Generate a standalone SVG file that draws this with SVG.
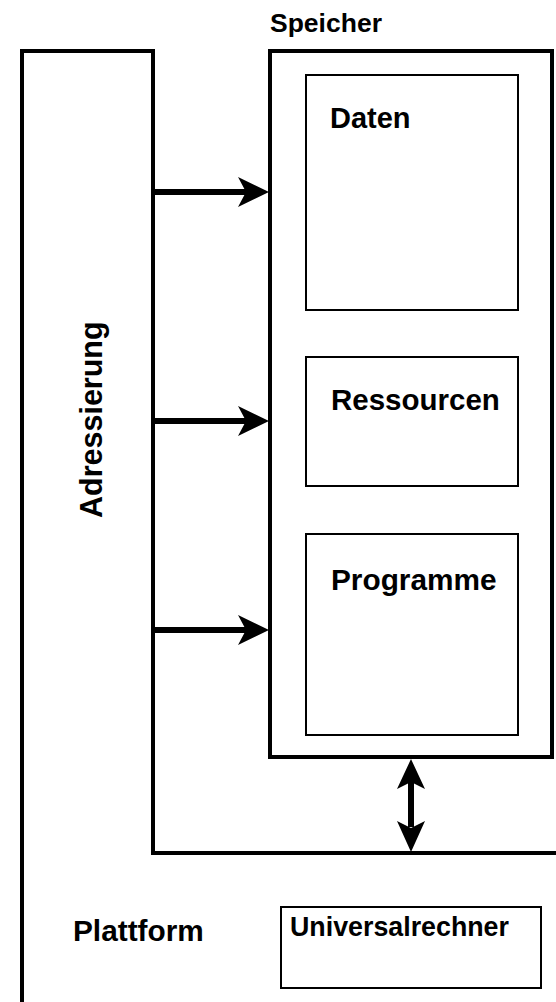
<svg xmlns="http://www.w3.org/2000/svg" width="556" height="1002" viewBox="0 0 556 1002">
  <style>
    .heavy { fill: none; stroke: #000; stroke-width: 4; }
    .light { fill: none; stroke: #000; stroke-width: 2; }
    .label { font-family: "Liberation Sans", Arial, Helvetica, sans-serif; font-weight: bold; fill: #000; }
    .shaft { stroke: #000; stroke-width: 6; fill: none; }
    .head { fill: #000; stroke: none; }
  </style>

  <!-- Plattform frame with the Adressierung column -->
  <g id="plattform">
    <path class="heavy" d="M556,853 H153 V51 H22 V1004"/>
    <text class="label" x="73" y="941" font-size="29.8">Plattform</text>
  </g>

  <g id="adressierung">
    <text class="label" font-size="30.5" transform="translate(102,518) rotate(-90)">Adressierung</text>
  </g>

  <!-- Memory block -->
  <g id="speicher">
    <rect class="heavy" x="270" y="51" width="282" height="706"/>
    <text class="label" x="270" y="32" font-size="26.5">Speicher</text>
  </g>

  <g id="daten">
    <rect class="light" x="306" y="75" width="212" height="235"/>
    <text class="label" x="330" y="128" font-size="29">Daten</text>
  </g>

  <g id="ressourcen">
    <rect class="light" x="306" y="357" width="212" height="129"/>
    <text class="label" x="331" y="410" font-size="29.5">Ressourcen</text>
  </g>

  <g id="programme">
    <rect class="light" x="306" y="534" width="212" height="201"/>
    <text class="label" x="331" y="590" font-size="29.8">Programme</text>
  </g>

  <g id="universalrechner">
    <rect class="light" x="281" y="907" width="260" height="81"/>
    <text class="label" x="290" y="936" font-size="26.8">Universalrechner</text>
  </g>

  <!-- Connectors -->
  <g id="connectors">
    <line class="shaft" x1="153" y1="192" x2="246" y2="192"/>
    <polygon class="head" points="269,192 238,177 246,192 238,207"/>

    <line class="shaft" x1="153" y1="421" x2="246" y2="421"/>
    <polygon class="head" points="269,421 238,406 246,421 238,436"/>

    <line class="shaft" x1="153" y1="630" x2="246" y2="630"/>
    <polygon class="head" points="269,630 238,615 246,630 238,645"/>

    <line class="shaft" x1="411" y1="782" x2="411" y2="827"/>
    <polygon class="head" points="411,759 397,789 411,782 425,789"/>
    <polygon class="head" points="411,852 397,821 411,828 425,821"/>
  </g>
</svg>
